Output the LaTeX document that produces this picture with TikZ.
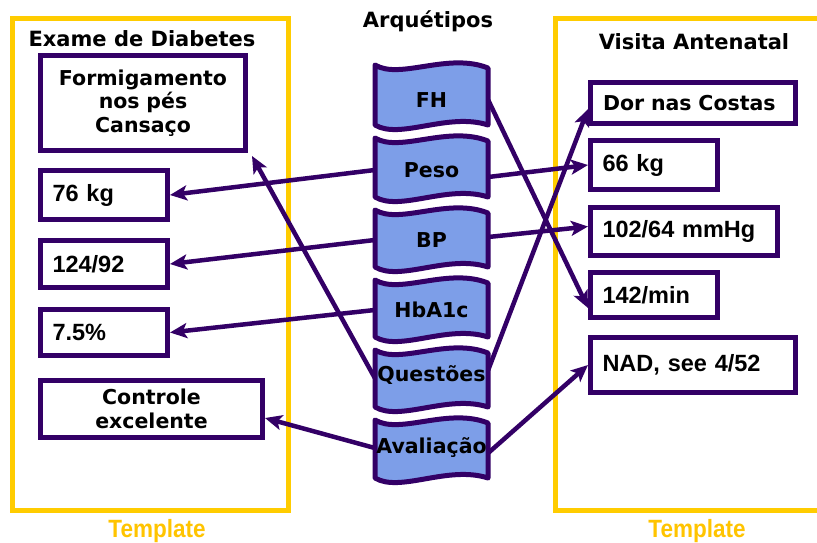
\documentclass[tikz,border=0pt]{standalone}
\usepackage{fontspec}
\setmainfont{DejaVu Sans}
\newfontfamily\arialfont{Liberation Sans}
\newfontfamily\tmplfont{Liberation Sans}[FakeStretch=0.9]
\usetikzlibrary{arrows.meta}
\definecolor{purp}{RGB}{51,0,102}
\definecolor{segblue}{RGB}{125,158,232}
\definecolor{gold}{RGB}{255,204,0}
\definecolor{tmpl}{RGB}{255,196,0}
\pgfdeclarelayer{bg}
\pgfdeclarelayer{arr}
\pgfsetlayers{bg,arr,main}
\newcommand\archseg[2]{%
  \filldraw[segshape] (375,#1) .. controls (400,#1+15) and (448,#1-13) .. (488,#1+3)
    -- (488,#2) .. controls (448,#2-13) and (400,#2+15) .. (375,#2) -- cycle;}
\begin{document}
\begin{tikzpicture}[x=1pt,y=-1pt,
  frame/.style={draw=gold,line width=5pt},
  title/.style={font=\fontsize{21}{25}\selectfont\bfseries,inner sep=0pt},
  tmpltext/.style={text=tmpl,font=\tmplfont\fontsize{25}{28}\selectfont\bfseries,inner sep=0pt},
  wbox/.style={draw=purp,line width=5pt,fill=white,inner xsep=12pt,inner ysep=0pt,
    font=\fontsize{20.5}{23.5}\selectfont\bfseries},
  nbox/.style={wbox,align=left,font=\arialfont\fontsize{23.5}{26}\selectfont\bfseries},
  segshape/.style={draw=purp,fill=segblue,line width=5pt,line join=round},
  seglabel/.style={inner sep=0pt,minimum width=113pt,minimum height=20pt,
    font=\fontsize{20.5}{24}\selectfont\bfseries},
  conn/.style={draw=purp,line width=4.5pt,-{Stealth[length=17pt,width=15pt,inset=4pt]}}
]
\useasboundingbox (0,0) rectangle (817,542);
% frames
\begin{pgfonlayer}{bg}
  \draw[frame] (12,18) rectangle (288,510);
  \draw[frame] (555,18) rectangle (830,510);
\end{pgfonlayer}
% titles
\node[title] (tleft) at (142,39) {Exame de Diabetes};
\node[title] (tmid) at (428,21) {Arquétipos};
\node[title] (tright) at (694,42) {Visita Antenatal};
\node[tmpltext] (tpl1) at (157,531) {Template};
\node[tmpltext] (tpl2) at (697,531) {Template};
% left boxes
\node[wbox,text width=181pt,align=center,minimum height=95pt] (b1) at (143,103)
  {Formigamento\\nos pés\\Cansaço};
\node[nbox,text width=103pt,minimum height=49pt] (b2) at (104,195) {76 kg};
\node[nbox,text width=103pt,minimum height=47pt] (b3) at (104,264) {124/92};
\node[nbox,text width=103pt,minimum height=46pt] (b4) at (104,332.5) {7.5\%};
\node[wbox,text width=198pt,align=center,minimum height=57pt] (b5) at (151.5,409)
  {Controle\\excelente};
% right boxes
\node[wbox,text width=180pt,align=left,minimum height=41pt,inner xsep=12.5pt] (r1) at (693,103) {Dor nas Costas};
\node[nbox,text width=103pt,minimum height=49pt] (r2) at (654,165) {66 kg};
\node[nbox,text width=163pt,minimum height=48pt] (r3) at (684,231.5) {102/64 mmHg};
\node[nbox,text width=103pt,minimum height=45pt] (r4) at (654,295) {142/min};
\node[nbox,text width=181pt,minimum height=55pt] (r5) at (693,365) {NAD, see 4/52};
% archetype segments
\archseg{65}{125}
\archseg{138}{197}
\archseg{210}{267}
\archseg{280}{337}
\archseg{350}{407}
\archseg{420}{478}
\node[seglabel] (fh) at (431.5,100) {FH};
\node[seglabel] (peso) at (431.5,170) {Peso};
\node[seglabel] (bp) at (431.5,240) {BP};
\node[seglabel] (hba) at (431.5,310) {HbA1c};
\node[seglabel] (quest) at (431.5,375) {Questões};
\node[seglabel] (aval) at (431.5,448) {Avaliação};
% connectors
\begin{pgfonlayer}{arr}
  \draw[conn] (peso.west) -- (b2.east);
  \draw[conn] ([yshift=-7pt]peso.east) -- (r2.west);
  \draw[conn] (bp.west) -- (b3.east);
  \draw[conn] ([yshift=3pt]bp.east) -- ([yshift=5pt]r3.west);
  \draw[conn] (hba.west) -- (b4.east);
  \draw[conn] (fh.east) -- ([yshift=-13pt]r4.west);
  \draw[conn] ([yshift=-3pt]quest.west) -- ([xshift=4pt,yshift=-3pt]b1.south east);
  \draw[conn] ([yshift=5pt]quest.east) -- ([yshift=-6pt]r1.west);
  \draw[conn] (aval.west) -- ([yshift=-9pt]b5.east);
  \draw[conn] ([yshift=-5pt]aval.east) -- (r5.west);
\end{pgfonlayer}
\end{tikzpicture}
\end{document}
